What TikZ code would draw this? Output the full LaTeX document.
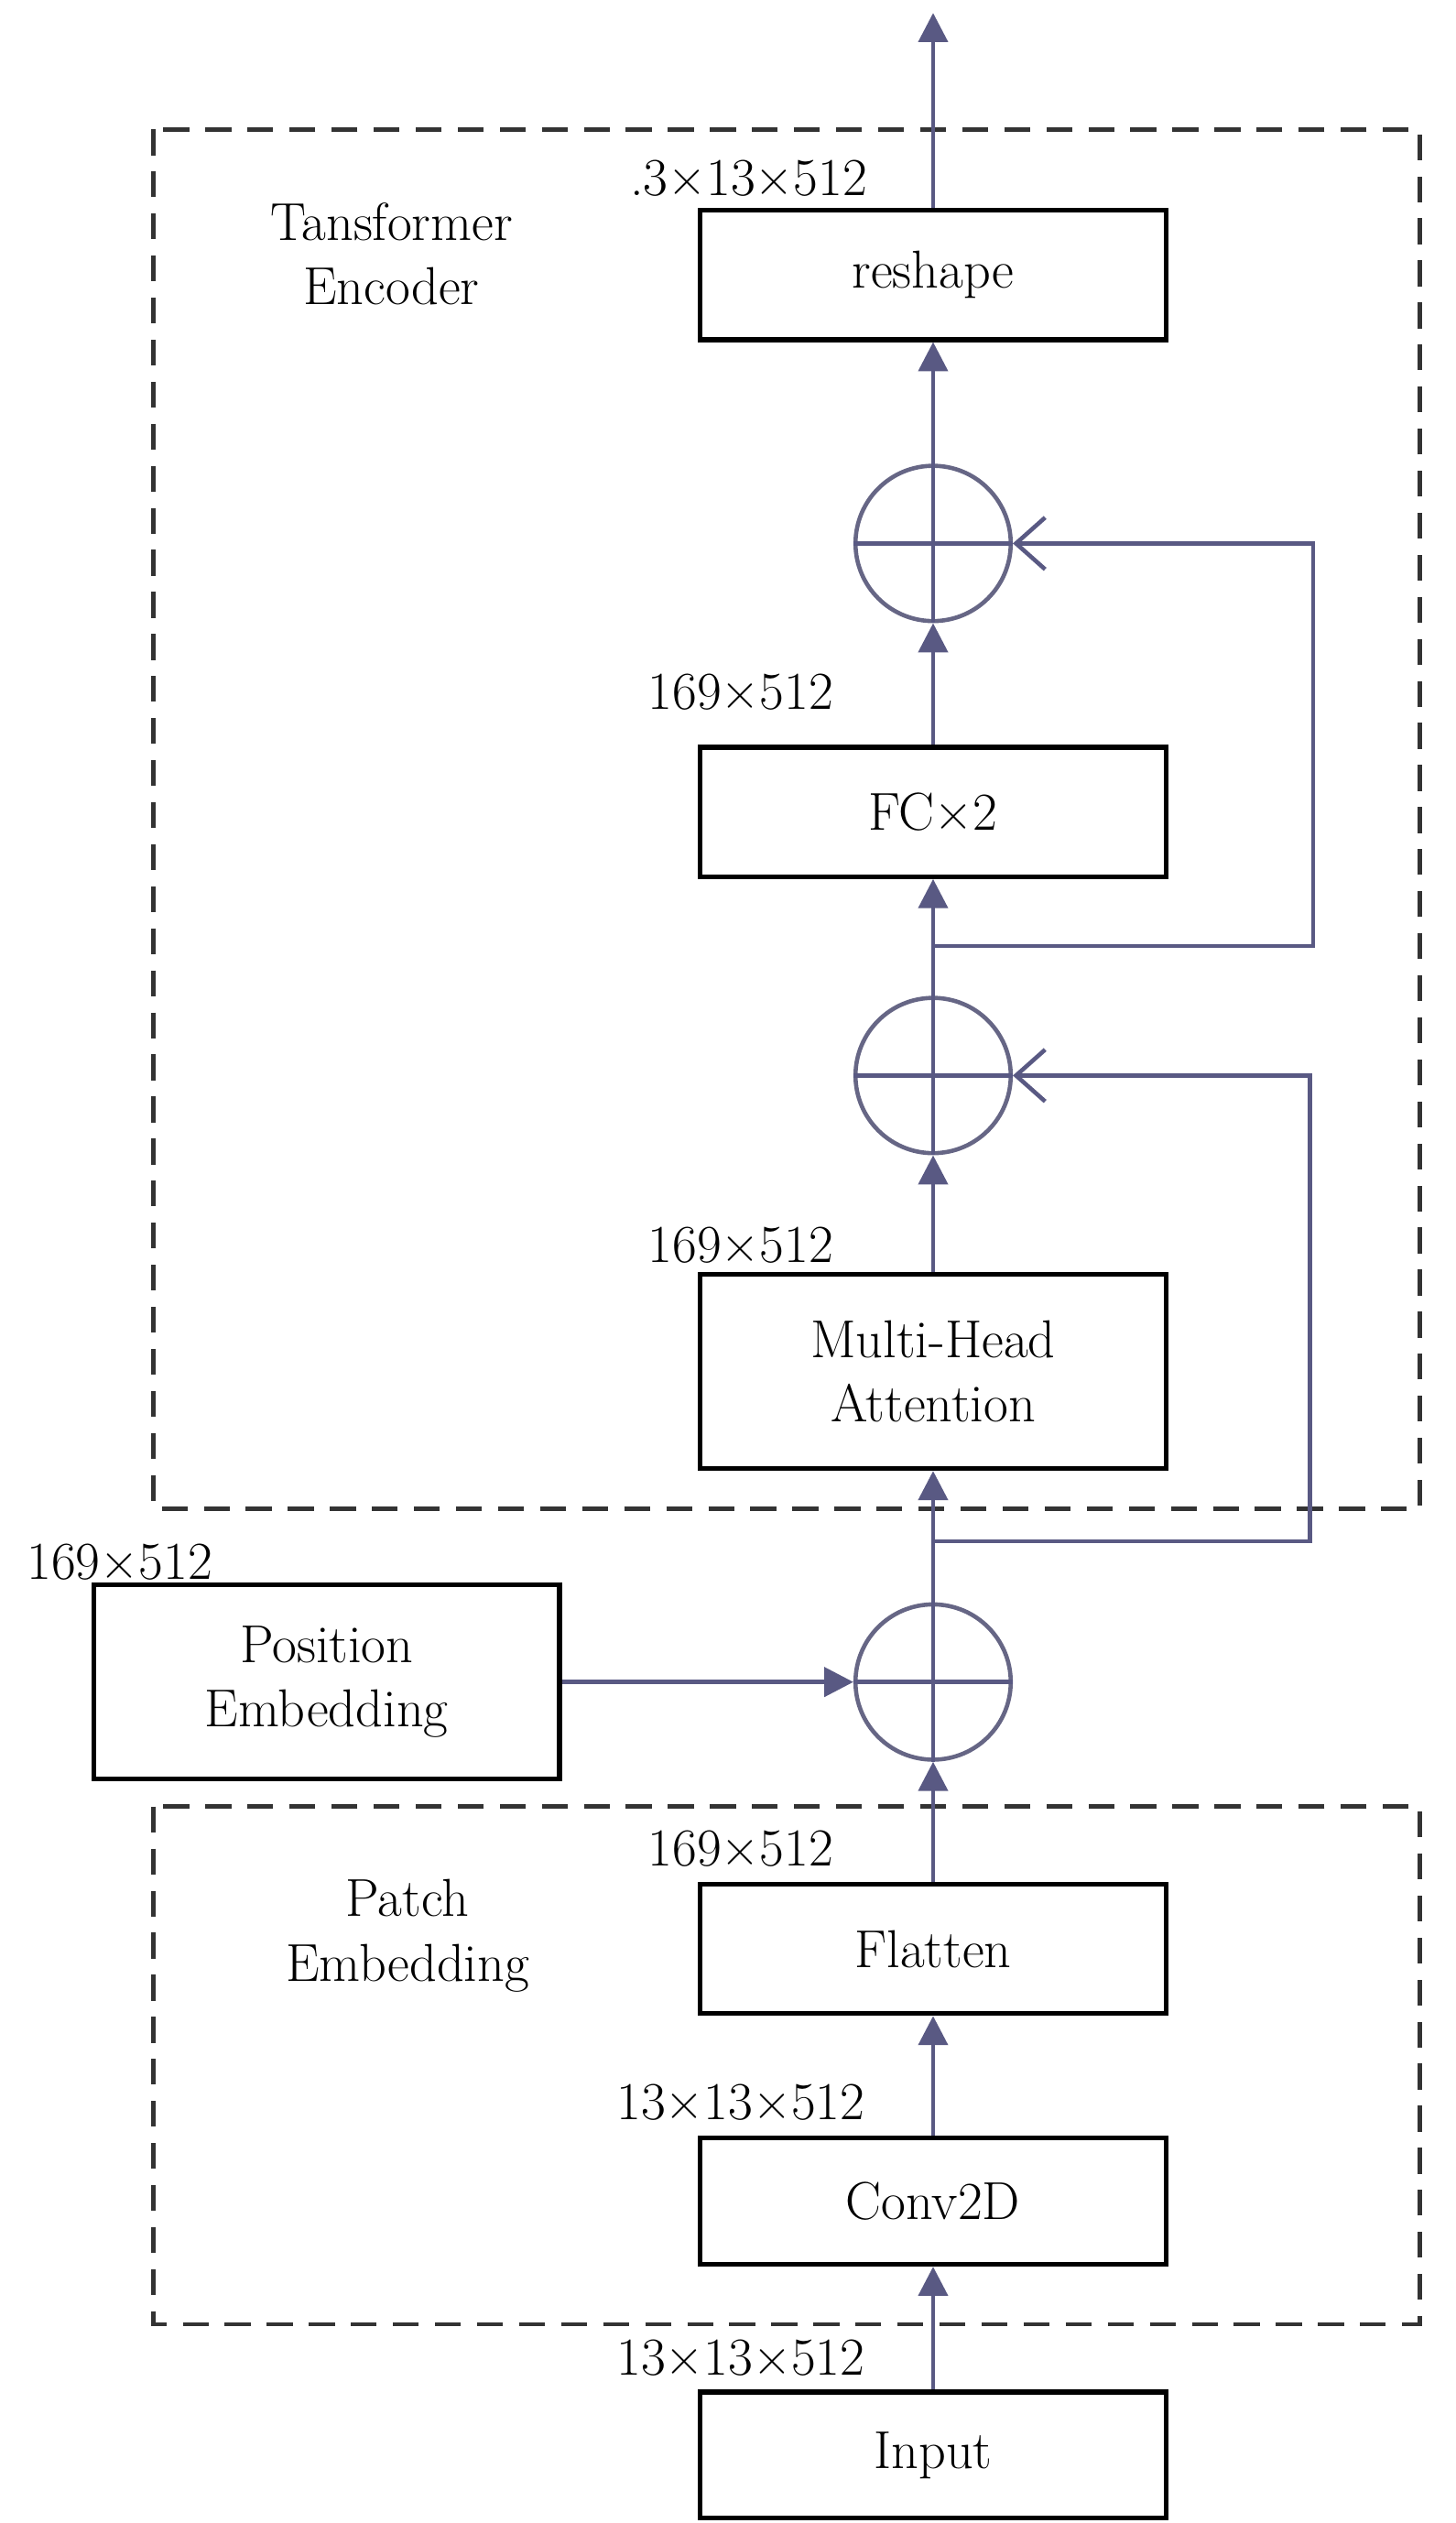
\documentclass[tikz,border=0pt]{standalone}
\usetikzlibrary{arrows.meta}
\begin{document}
\begin{tikzpicture}[x=0.5pt,y=-0.5pt,
 box/.style={draw=black,line width=1.5pt,minimum width=144pt,minimum height=40pt,inner sep=0pt,font=\fontsize{16.5}{20}\selectfont,align=center},
 sum/.style={circle,draw=black!80!blue!60,line width=1.3pt,minimum size=48pt,inner sep=0pt},
 con/.style={draw=black!45!blue!30!gray,line width=1.3pt},
 fl/.style={con,-{Triangle[length=9pt,width=9pt]}},
 op/.style={con,-{Straight Barb[length=9pt,width=16pt]}},
 lab/.style={font=\fontsize{16.5}{20}\selectfont,inner sep=0pt},
 dbox/.style={draw=black!80,line width=1.3pt,dash pattern=on 8pt off 5pt}]
\useasboundingbox (0,0) rectangle (900,1560);
\draw[dbox] (95,80) rectangle (878,933);
\draw[dbox] (95,1117) rectangle (878,1437);
\node[box] (rs) at (577,170) {reshape};
\node[sum] (s1) at (577,336) {};
\node[box] (fc) at (577,502) {FC×2};
\node[sum] (s2) at (577,665) {};
\node[box,minimum height=60pt] (mha) at (577,848) {Multi-Head\\Attention};
\node[sum] (s3) at (577,1040) {};
\node[box,minimum height=60pt] (pe) at (202,1040) {Position\\Embedding};
\node[box] (fl) at (577,1205) {Flatten};
\node[box,minimum height=39pt] (cv) at (577,1361) {Conv2D};
\node[box,minimum height=39pt] (in) at (577,1518) {Input};
\foreach \s in {s1,s2,s3}{
 \draw[con] (\s.north)--(\s.south); \draw[con] (\s.west)--(\s.east);}
\coordinate (top) at (577,8);
\coordinate (b1) at (577,585); \coordinate (r1) at (812,585); \coordinate (r1t) at (812,336);
\coordinate (b2) at (577,953); \coordinate (r2) at (810,953); \coordinate (r2t) at (810,665);
\draw[fl] (rs.north)--(top);
\draw[fl] (s1.north)--(rs.south);
\draw[fl] (fc.north)--(s1.south);
\draw[fl] (s2.north)--(fc.south);
\draw[fl] (mha.north)--(s2.south);
\draw[fl] (s3.north)--(mha.south);
\draw[fl] (fl.north)--(s3.south);
\draw[fl] (cv.north)--(fl.south);
\draw[fl] (in.north)--(cv.south);
\draw[fl] (pe.east)--(s3.west);
\draw[op] (b1)--(r1)--(r1t)--(s1.east);
\draw[op] (b2)--(r2)--(r2t)--(s2.east);
\node[lab] (l1) at (463,110) {.3×13×512};
\node[lab] (l2) at (458,428) {169×512};
\node[lab] (l3) at (458,770) {169×512};
\node[lab] (l4) at (74,966) {169×512};
\node[lab] (l5) at (458,1143) {169×512};
\node[lab] (l6) at (458,1300) {13×13×512};
\node[lab] (l7) at (458,1458) {13×13×512};
\node[lab,align=center] (te) at (242,157) {Tansformer\\Encoder};
\node[lab,align=center] (pt) at (252,1197) {Patch\\Embedding};
\end{tikzpicture}
\end{document}
